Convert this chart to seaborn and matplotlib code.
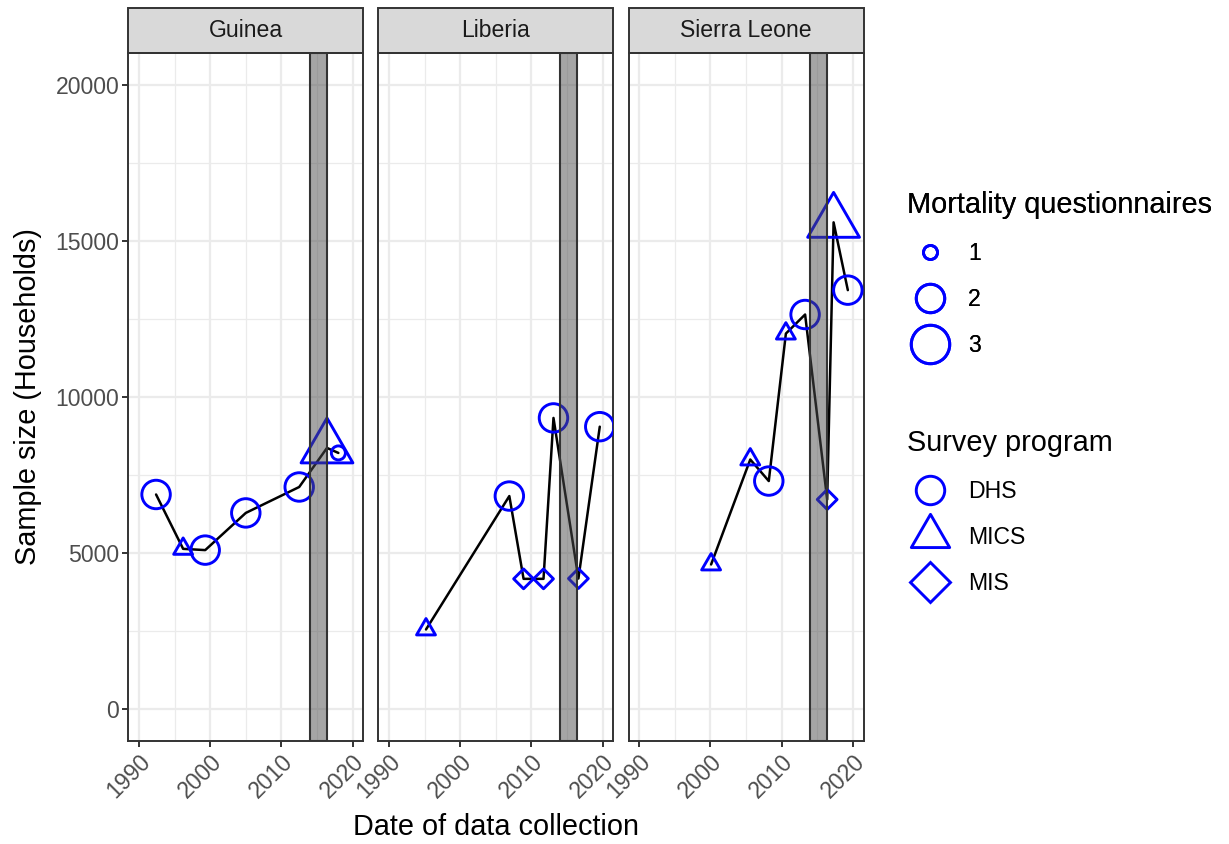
import matplotlib
matplotlib.use("Agg")
import matplotlib.pyplot as plt
import numpy as np
import pandas as pd
import seaborn as sns
from matplotlib.lines import Line2D
from matplotlib.patches import Rectangle
from matplotlib.path import Path
from matplotlib.ticker import MultipleLocator

sns.set_style("white")
plt.rcParams["font.family"] = ["Liberation Sans", "DejaVu Sans"]
plt.rcParams["text.color"] = "black"

# ------------------------------------------------------------------ #
# Data
# ------------------------------------------------------------------ #
countries = ["Guinea", "Liberia", "Sierra Leone"]

guinea_year = [1992.4, 1996.2, 1999.3, 2005.0, 2012.5, 2016.4, 2018.0]
guinea_households = [6880, 5140, 5100, 6290, 7120, 8370, 8210]
guinea_program = ["DHS", "MICS", "DHS", "DHS", "DHS", "MICS", "DHS"]
guinea_questionnaires = [2, 1, 2, 2, 2, 3, 1]

liberia_year = [1995.2, 2006.9, 2008.9, 2011.7, 2013.1, 2016.6, 2019.6]
liberia_households = [2560, 6830, 4180, 4180, 9330, 4190, 9050]
liberia_program = ["MICS", "DHS", "MIS", "MIS", "DHS", "MIS", "DHS"]
liberia_questionnaires = [1, 2, 1, 1, 2, 1, 2]

sierra_year = [2000.1, 2005.6, 2008.2, 2010.6, 2013.3, 2016.4, 2017.3, 2019.3]
sierra_households = [4640, 8000, 7310, 12030, 12640, 6720, 15590, 13420]
sierra_program = ["MICS", "MICS", "DHS", "MICS", "DHS", "MIS", "MICS", "DHS"]
sierra_questionnaires = [1, 1, 2, 1, 2, 1, 3, 2]

ebola_start, ebola_end = 2013.95, 2016.4

year_ticks = [1990, 2000, 2010, 2020]
household_ticks = [0, 5000, 10000, 15000, 20000]
questionnaire_levels = [1, 2, 3]
programs = ["DHS", "MICS", "MIS"]

frames = []
for name, yr, hh, prog, nq in [
    ("Guinea", guinea_year, guinea_households, guinea_program, guinea_questionnaires),
    ("Liberia", liberia_year, liberia_households, liberia_program, liberia_questionnaires),
    ("Sierra Leone", sierra_year, sierra_households, sierra_program, sierra_questionnaires),
]:
    frames.append(pd.DataFrame({"country": name, "year": yr, "households": hh,
                                "program": prog, "questionnaires": nq}))
df = pd.concat(frames, ignore_index=True)

# ------------------------------------------------------------------ #
# Styling helpers
# ------------------------------------------------------------------ #
BLUE = "#0000FF"
DARK = "#333333"
GRID = "#EBEBEB"
TICK_FS = 16.6
TITLE_FS = 20.8
STROKE = 2.1

# R pch-2 style equilateral triangle centred on its circumcentre
TRIANGLE = Path([(0, 1.5551), (1.3468, -0.7776), (-1.3468, -0.7776), (0, 1.5551)],
                closed=True)
# marker + area scale relative to the circle of the same size level
PROGRAM_MARKERS = {"DHS": ("o", 1.0), "MICS": (TRIANGLE, 2.418), "MIS": ("D", 1.0)}
# circle diameter (pt) for each questionnaire count
SIZE_PT = {1: 10.1, 2: 20.5, 3: 27.7}

fig = plt.figure(figsize=(12.29, 8.44), dpi=100)
W, H = 1229, 844
panel_left = [128.3, 378.3, 628.5]
panel_w, panel_top, panel_bottom = 235.0, 53.3, 740.7
strip_h = 45.0

axes = []
for i, country in enumerate(countries):
    ax = fig.add_axes([panel_left[i] / W, 1 - panel_bottom / H,
                       panel_w / W, (panel_bottom - panel_top) / H])
    axes.append(ax)
    d = df[df["country"] == country]

    sns.lineplot(data=d, x="year", y="households", color="black", linewidth=1.8,
                 estimator=None, sort=True, ax=ax, zorder=2, legend=False)
    for prog, (marker, scale) in PROGRAM_MARKERS.items():
        sub = d[d["program"] == prog]
        if sub.empty:
            continue
        sns.scatterplot(data=sub, x="year", y="households", size="questionnaires",
                        sizes={k: (v ** 2) * scale for k, v in SIZE_PT.items()},
                        marker=marker, color=BLUE, edgecolor=BLUE, facecolor="none",
                        linewidth=STROKE, legend=False, ax=ax, zorder=3)

    # Ebola epidemic band, drawn on top like the original
    ax.axvspan(ebola_start, ebola_end, facecolor=(0.3, 0.3, 0.3, 0.5),
               edgecolor=DARK, linewidth=1.5, zorder=4)

    ax.set_xlim(1988.5, 2021.5)
    ax.set_ylim(-1000, 21000)
    ax.set_xticks(year_ticks)
    ax.set_yticks(household_ticks)
    ax.xaxis.set_minor_locator(MultipleLocator(5))
    ax.yaxis.set_minor_locator(MultipleLocator(2500))
    ax.set_axisbelow(True)
    ax.grid(which="major", color=GRID, linewidth=1.6)
    ax.grid(which="minor", color=GRID, linewidth=0.9)
    ax.set_xlabel("")
    ax.set_ylabel("")
    for sp in ax.spines.values():
        sp.set_visible(True)
        sp.set_color(DARK)
        sp.set_linewidth(1.4)

    ax.tick_params(which="major", direction="out", length=4, width=1.4, color=DARK,
                   labelcolor="#4D4D4D", labelsize=TICK_FS, pad=2.5,
                   bottom=True, left=(i == 0), labelleft=(i == 0))
    ax.tick_params(which="minor", length=0)
    ax.set_xticklabels([str(t) for t in year_ticks])
    for lab in ax.get_xticklabels():
        lab.set_rotation(45)
        lab.set_ha("right")
        lab.set_va("top")
        lab.set_rotation_mode("anchor")

    # facet strip
    sh = strip_h / (panel_bottom - panel_top)
    ax.add_patch(Rectangle((0, 1), 1, sh, transform=ax.transAxes, clip_on=False,
                           facecolor="#D9D9D9", edgecolor=DARK, linewidth=1.4))
    ax.text(0.5, 1 + sh / 2, country, transform=ax.transAxes, ha="center", va="center",
            fontsize=TICK_FS, color="#1A1A1A")

fig.text(28 / W, 1 - 397 / H, "Sample size (Households)", rotation=90,
         ha="center", va="center", fontsize=TITLE_FS, color="black")
fig.text(496 / W, 1 - 827 / H, "Date of data collection",
         ha="center", va="center", fontsize=TITLE_FS, color="black")

# ------------------------------------------------------------------ #
# Legends
# ------------------------------------------------------------------ #
size_handles = [Line2D([], [], linestyle="none", marker="o", markersize=SIZE_PT[q],
                       markerfacecolor="none", markeredgecolor=BLUE,
                       markeredgewidth=STROKE) for q in questionnaire_levels]
prog_handles = []
for prog in programs:
    marker, scale = PROGRAM_MARKERS[prog]
    prog_handles.append(Line2D([], [], linestyle="none", marker=marker,
                               markersize=SIZE_PT[2] * np.sqrt(scale),
                               markerfacecolor="none", markeredgecolor=BLUE,
                               markeredgewidth=STROKE))

leg_kw = dict(frameon=False, fontsize=TICK_FS, title_fontsize=TITLE_FS,
              handlelength=2.0, handletextpad=0.65, labelspacing=1.0,
              borderpad=0, borderaxespad=0, alignment="left", loc="upper left",
              labelcolor="black")
leg1 = fig.legend(size_handles, [str(q) for q in questionnaire_levels],
                  title="Mortality questionnaires", bbox_to_anchor=(907 / W, 1 - 191 / H),
                  **leg_kw)
leg2 = fig.legend(prog_handles, programs, title="Survey program",
                  bbox_to_anchor=(907 / W, 1 - 429 / H), **leg_kw)
for leg in (leg1, leg2):
    leg.get_title().set_color("black")
fig.add_artist(leg1)

fig.savefig("out.png", dpi=100)
